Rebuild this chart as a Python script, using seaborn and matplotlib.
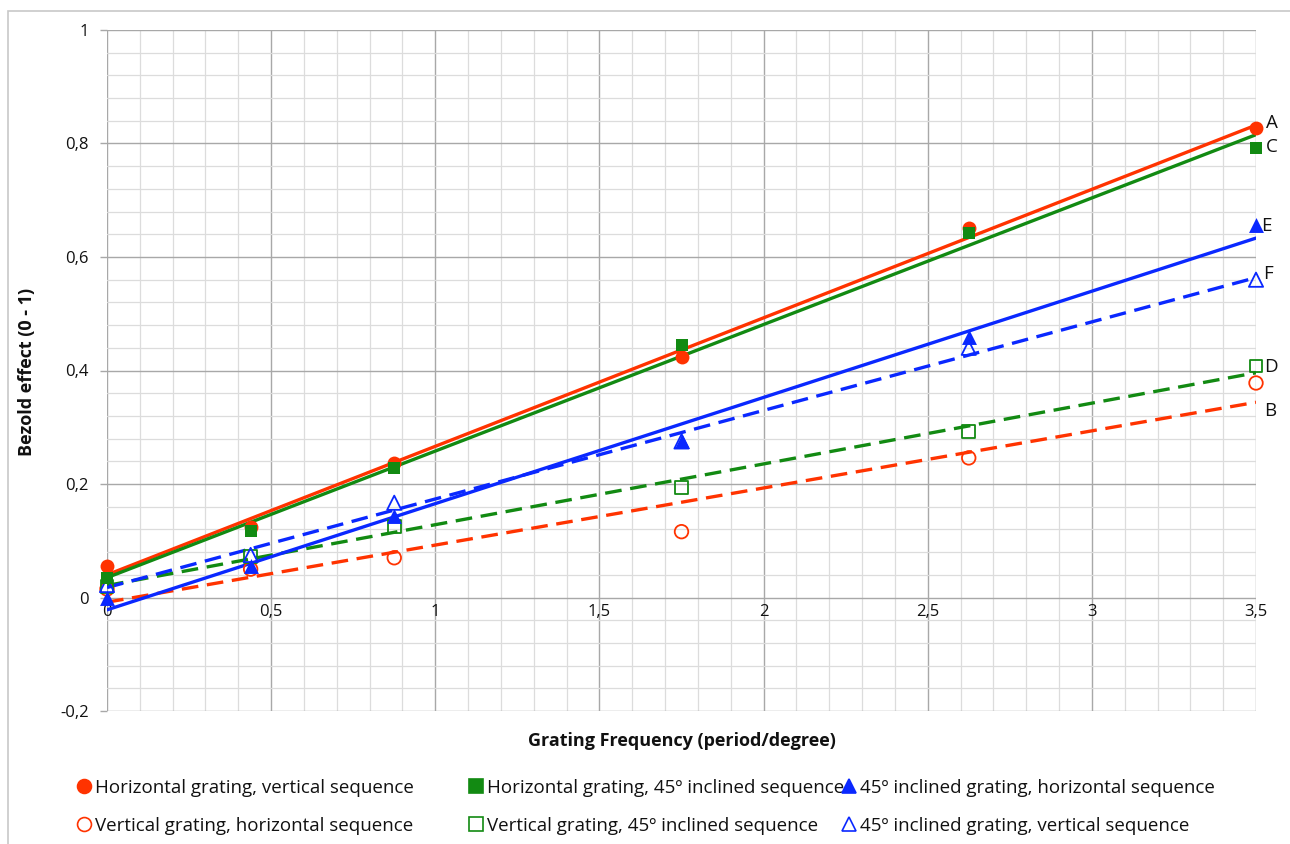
import numpy as np
import pandas as pd
import matplotlib
matplotlib.use("Agg")
import matplotlib.pyplot as plt
import seaborn as sns
from matplotlib.lines import Line2D
from matplotlib.patches import Rectangle
from matplotlib.ticker import MultipleLocator, FuncFormatter

# ---------------- data ----------------
freq = [0.0, 0.4375, 0.875, 1.75, 2.625, 3.5]
a_hor_vert = [0.055, 0.125, 0.237, 0.424, 0.651, 0.828]   # A
b_vert_hor = [0.015, 0.050, 0.070, 0.116, 0.246, 0.378]   # B
c_hor_45 = [0.035, 0.117, 0.228, 0.445, 0.642, 0.792]     # C
d_vert_45 = [0.020, 0.072, 0.125, 0.194, 0.292, 0.408]    # D
e_45_hor = [0.000, 0.055, 0.143, 0.275, 0.459, 0.657]     # E
f_45_vert = [0.022, 0.075, 0.167, 0.275, 0.440, 0.560]    # F

series_values = [a_hor_vert, b_vert_hor, c_hor_45, d_vert_45, e_45_hor, f_45_vert]
series_names = [
    "Horizontal grating, vertical sequence",
    "Vertical grating, horizontal sequence",
    "Horizontal grating, 45º inclined sequence",
    "Vertical grating, 45º inclined sequence",
    "45º inclined grating, horizontal sequence",
    "45º inclined grating, vertical sequence",
]
series_letters = ["A", "B", "C", "D", "E", "F"]

x_label = "Grating Frequency (period/degree)"
y_label = "Bezold effect (0 - 1)"

# ---------------- styles ----------------
RED = "#ff3300"
GREEN = "#128a12"
BLUE = "#0a28ff"
colors = [RED, RED, GREEN, GREEN, BLUE, BLUE]
markers = ["o", "o", "s", "s", "^", "^"]
filled = [True, False, True, False, True, False]
marker_sizes = [100, 95, 85, 85, 115, 105]
letter_offsets = [(7, 3), (6, -20), (7, 1), (6, -1), (4, -1), (5, 4)]

sns.set_theme(style="white")
plt.rcParams["font.family"] = ["Open Sans", "DejaVu Sans"]

fig = plt.figure(figsize=(12.9, 8.44), dpi=100)
ax = fig.add_axes([107 / 1290, 1 - 711 / 844, (1256 - 107) / 1290, (711 - 30) / 844])

# outer chart frame
fig.patches.append(Rectangle((8 / 1290, -0.05), 1.2, 1 - 11 / 844 + 0.05,
                             transform=fig.transFigure, fill=False,
                             edgecolor="#c8c8c8", linewidth=1.2, zorder=-5))

df = pd.DataFrame({"freq": np.tile(freq, 6),
                   "value": np.concatenate(series_values),
                   "series": np.repeat(series_letters, len(freq))})

# trend lines
for i, letter in enumerate(series_letters):
    sub = df[df["series"] == letter]
    lkw = dict(color=colors[i], linewidth=2.4, zorder=3)
    if not filled[i]:
        lkw["linestyle"] = (0, (5, 2.6))
    sns.regplot(data=sub, x="freq", y="value", ax=ax, scatter=False, ci=None,
                truncate=True, line_kws=lkw)

# markers
for i, letter in enumerate(series_letters):
    sub = df[df["series"] == letter]
    if filled[i]:
        sns.scatterplot(data=sub, x="freq", y="value", ax=ax, marker=markers[i],
                        s=marker_sizes[i], color=colors[i], edgecolor=colors[i],
                        linewidth=0, zorder=5, legend=False, clip_on=False)
    else:
        sns.scatterplot(data=sub, x="freq", y="value", ax=ax, marker=markers[i],
                        s=marker_sizes[i], facecolors="none", edgecolors=colors[i],
                        linewidths=1.3, zorder=4, legend=False, clip_on=False)

# letters on the right
for i, letter in enumerate(series_letters):
    ax.annotate(letter, xy=(freq[-1], series_values[i][-1]), xytext=letter_offsets[i],
                textcoords="offset points", fontsize=13.5, color="#111111",
                ha="left", va="center", annotation_clip=False)

# axes
ax.set_xlim(0, 3.5)
ax.set_ylim(-0.2, 1.0)
ax.xaxis.set_major_locator(MultipleLocator(0.5))
ax.xaxis.set_minor_locator(MultipleLocator(0.1))
ax.yaxis.set_major_locator(MultipleLocator(0.2))
ax.yaxis.set_minor_locator(MultipleLocator(0.04))


def fmt(v, pos):
    v = round(v, 2)
    if abs(v) < 1e-9:
        return "0"
    return ("%g" % v).replace(".", ",")


ax.xaxis.set_major_formatter(FuncFormatter(fmt))
ax.yaxis.set_major_formatter(FuncFormatter(fmt))

ax.grid(which="major", color="#a8a8a8", linewidth=1.0)
ax.grid(which="minor", color="#dcdcdc", linewidth=0.9)
ax.set_axisbelow(True)
for sp in ax.spines.values():
    sp.set_visible(False)
ax.spines["bottom"].set_position(("data", 0))

ax.tick_params(axis="x", which="both", length=0, pad=5, labelsize=12, labelcolor="#111111")
ax.tick_params(axis="y", which="major", length=5, width=1, color="#a8a8a8", direction="out",
               pad=8, labelsize=12, labelcolor="#111111", left=True)
ax.tick_params(axis="y", which="minor", length=0)

ax.set_xlabel("")
ax.set_ylabel("")
fig.text((107 + 1256) / 2 / 1290, 1 - 741 / 844, x_label, ha="center", va="center",
         fontsize=13, fontweight="bold", color="#111111")
fig.text(27 / 1290, 1 - 372 / 844, y_label, ha="center", va="center", rotation=90,
         fontsize=13, fontweight="bold", color="#111111")

# legend: three columns of two entries
handles = []
for i in range(6):
    handles.append(Line2D([], [], linestyle="none", marker=markers[i], markersize=10,
                          markerfacecolor=colors[i] if filled[i] else "none",
                          markeredgecolor=colors[i], markeredgewidth=1.2))
col_x = [77 / 1290, 469 / 1290, 842 / 1290]
for c in range(3):
    leg = fig.legend(handles[2 * c:2 * c + 2], series_names[2 * c:2 * c + 2],
                     loc="upper left", bbox_to_anchor=(col_x[c], 1 - 779 / 844),
                     frameon=False, fontsize=13.5, handlelength=0.7, handletextpad=0.25,
                     labelspacing=1.05, borderpad=0, borderaxespad=0)
    for t in leg.get_texts():
        t.set_color("#111111")

fig.savefig("out.png", dpi=100)
